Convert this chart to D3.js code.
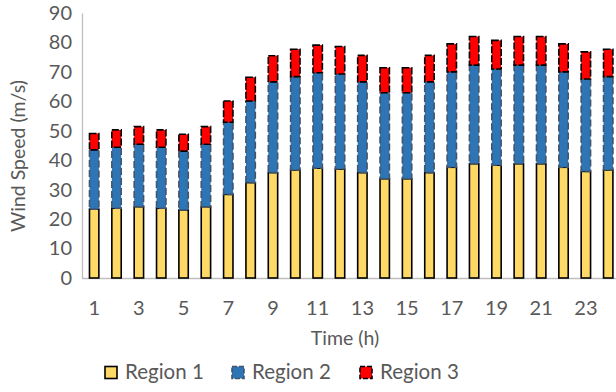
<!DOCTYPE html>
<html><head><meta charset="utf-8">
<script src="https://cdn.jsdelivr.net/npm/d3@7"></script>
<style>body{margin:0;background:#fff}svg{display:block}text{font-family:Lato,"Open Sans",sans-serif;fill:#595959}</style>
</head><body><svg id="c" width="616" height="392"></svg>
<script>
const hours = d3.range(1, 25);
const tickLabels = ["1","3","5","7","9","11","13","15","17","19","21","23"];
const seriesNames = ["Region 1","Region 2","Region 3"];
const region1 = [23.4,23.7,24.2,23.7,23.1,24.2,28.4,32.4,35.8,36.7,37.3,37.0,35.8,33.7,33.7,35.8,37.6,38.8,38.3,38.8,38.8,37.6,36.2,36.7];
const region2 = [20.1,20.7,21.2,20.7,20.0,21.2,24.5,27.7,30.8,31.7,32.4,32.3,30.8,29.2,29.2,30.8,32.4,33.5,32.7,33.5,33.5,32.4,31.4,31.7];
const region3 = [5.6,5.9,6.0,5.9,5.7,6.0,7.2,8.1,8.9,9.3,9.4,9.3,9.0,8.5,8.5,9.0,9.5,9.7,9.7,9.7,9.7,9.5,9.2,9.3];
const yTicks = [0,10,20,30,40,50,60,70,80,90];

const svg = d3.select("#c");
const x = d3.scaleBand().domain(hours).range([83, 83 + 24*22.35]).paddingInner(0.58).paddingOuter(0.29);
const y = d3.scaleLinear().domain([0, 90]).range([278, 13]);

const rows = hours.map((h,i)=>({h, "Region 1":region1[i], "Region 2":region2[i], "Region 3":region3[i]}));
const stacked = d3.stack().keys(seriesNames)(rows);

const styles = [
  {fill:"#FFD966", stroke:"#000", dash:null, sw:1.6},
  {fill:"#2E75B6", stroke:"#44546A", dash:"7,3", sw:1.6},
  {fill:"#FF0000", stroke:"#000", dash:"7,2", sw:1.6}
];

// axes
const yAxis = d3.axisLeft(y).tickValues(yTicks).tickSize(0).tickPadding(10);
const gy = svg.append("g").attr("transform","translate(82,0)").call(yAxis);
gy.select(".domain").attr("stroke","#BFBFBF").attr("stroke-width",1.3);
gy.selectAll("text").style("font-size","20px").attr("fill","#595959");

const xAxis = d3.axisBottom(x).tickValues(hours.filter(h=>h%2===1)).tickFormat((d,i)=>tickLabels[i]).tickSize(0).tickPadding(22);
const gx = svg.append("g").attr("transform","translate(0,278.5)").call(xAxis);
gx.select(".domain").attr("stroke","#BFBFBF").attr("stroke-width",1.3).attr("d","M82,0H616");
gx.selectAll("text").style("font-size","20px").attr("fill","#595959");

// bars
stacked.forEach((s,si)=>{
  const st = styles[si];
  svg.append("g").selectAll("rect").data(s).join("rect")
    .attr("x", d=>x(d.data.h))
    .attr("width", x.bandwidth())
    .attr("y", d=>y(d[1]))
    .attr("height", d=>y(d[0])-y(d[1]))
    .attr("fill", st.fill).attr("stroke", st.stroke).attr("stroke-width", st.sw)
    .attr("stroke-dasharray", st.dash);
});

// axis titles
svg.append("text").attr("x",345).attr("y",345).attr("text-anchor","middle").style("font-size","19.5px").text("Time (h)");
svg.append("text").attr("transform","translate(25,156) rotate(-90)").attr("text-anchor","middle").style("font-size","19.5px").text("Wind Speed (m/s)");

// legend
const legX = [105, 232, 360];
seriesNames.forEach((n,i)=>{
  const st = styles[i];
  svg.append("rect").attr("x",legX[i]).attr("y",366.5).attr("width",12).attr("height",12)
    .attr("fill",st.fill).attr("stroke",st.stroke).attr("stroke-width",1.6).attr("stroke-dasharray",st.dash? "5,2":null);
  svg.append("text").attr("x",legX[i]+20).attr("y",379).style("font-size","20.5px").text(n);
});
</script></body></html>
